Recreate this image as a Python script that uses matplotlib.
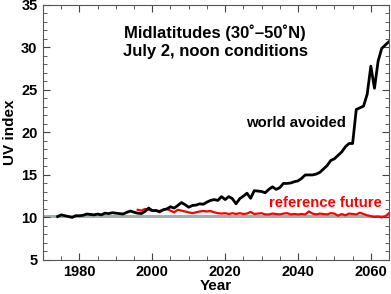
import matplotlib
matplotlib.use("Agg")
import matplotlib.pyplot as plt
from matplotlib.ticker import MultipleLocator

plt.rcParams['font.family'] = ['Liberation Sans', 'DejaVu Sans']
plt.rcParams['font.weight'] = 'bold'

# world avoided, 1974-2065
years_wa = list(range(1974, 2066))
uv_wa = [10.1, 10.3, 10.2, 10.1, 10.0, 10.2, 10.2, 10.25, 10.4, 10.35,
         10.3, 10.4, 10.3, 10.5, 10.45, 10.55, 10.5, 10.45, 10.4, 10.6,
         10.75, 10.6, 10.5, 10.45, 10.7, 11.1, 10.8, 10.8, 10.7, 10.9,
         11.0, 11.25, 11.1, 11.4, 11.75, 11.5, 11.2, 11.4, 11.45, 11.6,
         11.55, 11.8, 12.0, 12.1, 12.0, 12.45, 12.1, 12.45, 12.2, 11.6,
         12.2, 12.5, 12.85, 12.25, 13.15, 13.1, 13.05, 12.9, 13.3, 13.6,
         13.3, 13.5, 14.0, 14.0, 14.05, 14.2, 14.3, 14.6, 15.0, 15.0,
         15.0, 15.1, 15.3, 15.7, 16.1, 16.7, 16.9, 17.3, 17.7, 18.3,
         18.7, 18.7, 22.7, 22.9, 23.1, 24.5, 27.8, 25.2, 28.4, 29.9,
         30.3, 30.7]

# reference future, 1996-2065
years_ref = list(range(1996, 2066))
uv_ref = [10.9, 10.8, 11.0, 10.9, 10.8, 10.85, 10.6, 10.9, 11.0, 10.8,
          10.6, 10.9, 10.8, 10.7, 10.6, 10.5, 10.6, 10.7, 10.75, 10.7,
          10.75, 10.6, 10.5, 10.45, 10.5, 10.4, 10.5, 10.4, 10.5, 10.4,
          10.45, 10.65, 10.4, 10.45, 10.5, 10.35, 10.35, 10.45, 10.4, 10.35,
          10.45, 10.5, 10.35, 10.4, 10.35, 10.4, 10.35, 10.7, 10.45, 10.35,
          10.45, 10.4, 10.35, 10.5, 10.45, 10.2, 10.4, 10.25, 10.45, 10.4,
          10.35, 10.55, 10.4, 10.25, 10.15, 10.05, 10.1, 10.0, 10.15, 10.5]

# observed-range band
band_lo, band_hi = 9.9, 10.3

fig = plt.figure(figsize=(3.91, 2.94), dpi=100)
ax = fig.add_axes([0.110, 0.116, 0.885, 0.867])

ax.axhspan(band_lo, band_hi, color='#9db3ad', lw=0, zorder=1)
ax.plot(years_ref, uv_ref, color='#ff0000', lw=1.6, zorder=2)
ax.plot(years_wa, uv_wa, color='black', lw=2.0, zorder=3)

ax.set_xlim(1970, 2065)
ax.set_ylim(5, 35)
ax.xaxis.set_major_locator(MultipleLocator(20))
ax.xaxis.set_minor_locator(MultipleLocator(5))
ax.yaxis.set_major_locator(MultipleLocator(5))
ax.yaxis.set_minor_locator(MultipleLocator(1))
ax.tick_params(which='both', direction='in', top=True, right=True,
               labelsize=10.5, color='#444444')
ax.tick_params(which='major', length=5, width=0.8, pad=4)
ax.tick_params(which='minor', length=3, width=0.6)
for s in ax.spines.values():
    s.set_color('#555555')
    s.set_linewidth(0.8)

ax.set_xlabel('Year', fontsize=11, fontweight='bold', labelpad=0)
ax.set_ylabel('UV index', fontsize=11, fontweight='bold', labelpad=3)

ax.text(2017.3, 31.7, 'Midlatitudes (30˚–50˚N)', ha='center', va='center',
        fontsize=12, fontweight='bold')
ax.text(2017.3, 29.5, 'July 2, noon conditions', ha='center', va='center',
        fontsize=12, fontweight='bold')
ax.text(2039.5, 21.1, 'world avoided', ha='center', va='center',
        fontsize=10.7, fontweight='bold', color='black')
ax.text(2047.6, 11.7, 'reference future', ha='center', va='center',
        fontsize=10.7, fontweight='bold', color='#ff0000')

fig.savefig('out.png', dpi=100)
